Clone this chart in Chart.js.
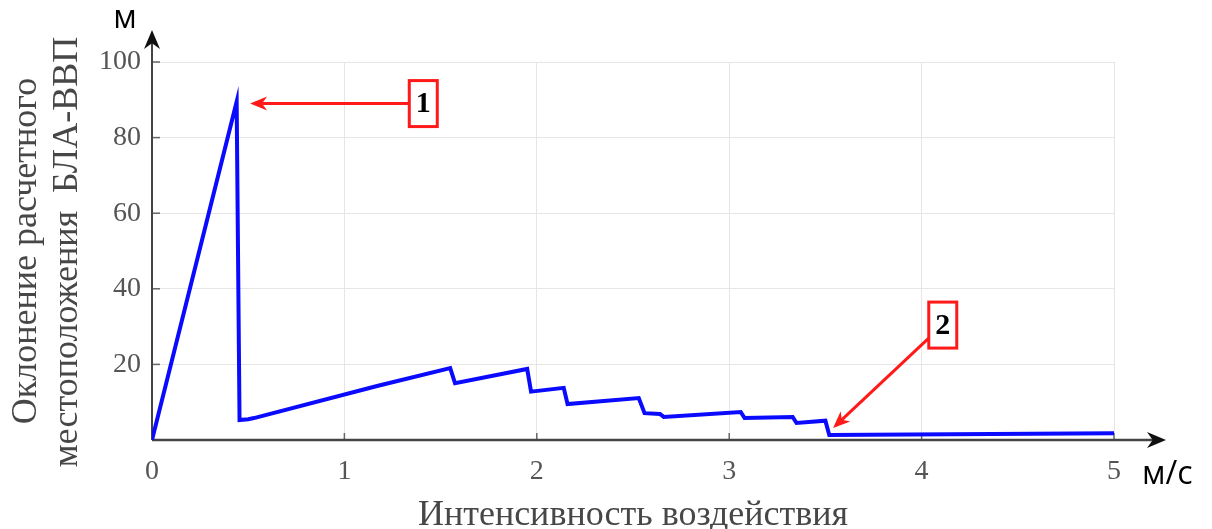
<!DOCTYPE html>
<html>
<head>
<meta charset="utf-8">
<script src="https://cdn.jsdelivr.net/npm/chart.js@4/dist/chart.umd.min.js"></script>
<style>body{margin:0;background:#fff}</style>
</head>
<body>
<canvas id="myChart" width="1212" height="529"></canvas>
<script>
// data
let xValues = [0, 0.44, 0.455, 0.5, 0.53, 1.17, 1.55, 1.575, 1.95, 1.97, 2.14, 2.16, 2.53, 2.56, 2.64, 2.66, 3.06, 3.08, 3.33, 3.35, 3.5, 3.52, 5]
let yValues = [0, 89.5, 5.3, 5.5, 5.8, 14.3, 19, 15, 18.8, 12.8, 13.8, 9.5, 11.1, 7.1, 6.9, 6.1, 7.4, 5.8, 6.1, 4.5, 5.1, 1.3, 1.8]
let xTicks = [0, 1, 2, 3, 4, 5]
let yTicks = [20, 40, 60, 80, 100]
let xTitle = 'Интенсивность воздействия'
let yTitle = ['Оклонение расчетного', 'местоположения  БЛА-ВВП']
let xUnit = 'м/с'
let yUnit = 'м'
// numbered callouts: box centre and the point the arrow reaches
let calloutLabels = ['1', '2']
let calloutX = [1.41, 4.11]
let calloutY = [89, 30.4]
let targetX = [0.51, 3.54]
let targetY = [89, 3.2]

const serif = 'Liberation Serif'

function arrowHead(ctx, x1, y1, x2, y2, len, half) {
    let a = Math.atan2(y2 - y1, x2 - x1)
    ctx.save()
    ctx.translate(x2, y2)
    ctx.rotate(a)
    ctx.beginPath()
    ctx.moveTo(0, 0)
    ctx.lineTo(-len, -half)
    ctx.lineTo(-len * 0.7, 0)
    ctx.lineTo(-len, half)
    ctx.closePath()
    ctx.fill()
    ctx.restore()
}

const decor = {
    id: 'decor',
    beforeDatasetsDraw(chart) {
        let ctx = chart.ctx, a = chart.chartArea
        let xs = chart.scales.x, ys = chart.scales.y
        ctx.save()
        // inner tick marks
        ctx.strokeStyle = '#666'
        ctx.lineWidth = 1.5
        xTicks.forEach(v => {
            let px = xs.getPixelForValue(v)
            ctx.beginPath(); ctx.moveTo(px, a.bottom); ctx.lineTo(px, a.bottom - 7); ctx.stroke()
        })
        yTicks.forEach(v => {
            let py = ys.getPixelForValue(v)
            ctx.beginPath(); ctx.moveTo(a.left, py); ctx.lineTo(a.left + 8, py); ctx.stroke()
        })
        // axes with arrows
        ctx.strokeStyle = '#444'
        ctx.fillStyle = '#111'
        ctx.lineWidth = 2
        ctx.beginPath(); ctx.moveTo(a.left, a.bottom); ctx.lineTo(a.left, 38); ctx.stroke()
        arrowHead(ctx, a.left, a.bottom, a.left, 30, 19, 8)
        ctx.lineWidth = 2.5
        ctx.beginPath(); ctx.moveTo(a.left, a.bottom); ctx.lineTo(1158, a.bottom); ctx.stroke()
        arrowHead(ctx, a.left, a.bottom, 1166, a.bottom, 19, 8)
        ctx.restore()
    },
    afterDraw(chart) {
        let ctx = chart.ctx, a = chart.chartArea
        let xs = chart.scales.x, ys = chart.scales.y
        ctx.save()
        // axis titles
        ctx.fillStyle = '#474747'
        ctx.textAlign = 'center'
        ctx.textBaseline = 'alphabetic'
        ctx.font = '36px "' + serif + '"'
        ctx.fillText(xTitle, 633, 525)
        ctx.save()
        ctx.rotate(-Math.PI / 2)
        ctx.fillText(yTitle[0], -251, 36)
        ctx.fillText(yTitle[1], -252, 77)
        ctx.restore()
        // units
        ctx.fillStyle = '#000'
        ctx.font = '32px "Open Sans"'
        ctx.textAlign = 'center'
        ctx.fillText(yUnit, 125, 28)
        ctx.textAlign = 'left'
        ctx.fillText(xUnit, 1142, 484)
        // callouts
        calloutLabels.forEach((lab, i) => {
            let cx = xs.getPixelForValue(calloutX[i]), cy = ys.getPixelForValue(calloutY[i])
            let tx = xs.getPixelForValue(targetX[i]), ty = ys.getPixelForValue(targetY[i])
            let hw = 14, hh = 23
            let dx = tx - cx, dy = ty - cy
            let t = Math.min(hw / Math.abs(dx || 1e-9), hh / Math.abs(dy || 1e-9))
            let sx = cx + dx * t, sy = cy + dy * t
            ctx.strokeStyle = '#ff1a1a'
            ctx.fillStyle = '#ff1a1a'
            ctx.lineWidth = 3
            ctx.beginPath(); ctx.moveTo(sx, sy)
            let len = Math.hypot(dx, dy)
            ctx.lineTo(tx - dx / len * 10, ty - dy / len * 10); ctx.stroke()
            arrowHead(ctx, sx, sy, tx, ty, 17, 7)
            ctx.lineWidth = 3
            ctx.strokeRect(cx - hw, cy - hh, hw * 2, hh * 2)
            ctx.fillStyle = '#000'
            ctx.font = 'bold 30px "' + serif + '"'
            ctx.textAlign = 'center'
            ctx.textBaseline = 'middle'
            ctx.fillText(lab, cx, cy + 1)
        })
        ctx.restore()
    }
}

let ctx = document.getElementById('myChart').getContext('2d')
let chart = new Chart(ctx, {
    type: 'line',
    data: {
        datasets: [{
            data: xValues.map((x, i) => ({ x: x, y: yValues[i] })),
            borderColor: '#0a0aff',
            borderWidth: 4,
            pointRadius: 0,
            tension: 0,
            fill: false
        }]
    },
    options: {
        responsive: false,
        animation: false,
        layout: { padding: { left: 0, right: 98, top: 62, bottom: 0 } },
        plugins: { legend: { display: false }, tooltip: { enabled: false } },
        scales: {
            x: {
                type: 'linear', min: 0, max: 5,
                afterFit: s => { s.height = 89 },
                afterBuildTicks: s => { s.ticks = xTicks.map(v => ({ value: v })) },
                grid: { color: '#e6e6e6', drawTicks: false },
                border: { display: false },
                ticks: { autoSkip: false, maxRotation: 0, padding: 15, color: '#555', font: { family: serif, size: 28 } }
            },
            y: {
                min: 0, max: 100,
                afterFit: s => { s.width = 152 },
                afterBuildTicks: s => { s.ticks = [0].concat(yTicks).map(v => ({ value: v })) },
                grid: { color: '#e6e6e6', drawTicks: false },
                border: { display: false },
                ticks: { autoSkip: false, padding: 11, color: '#555', font: { family: serif, size: 28 },
                    callback: v => yTicks.includes(v) ? v : '' }
            }
        }
    },
    plugins: [decor]
})
</script>
</body>
</html>
